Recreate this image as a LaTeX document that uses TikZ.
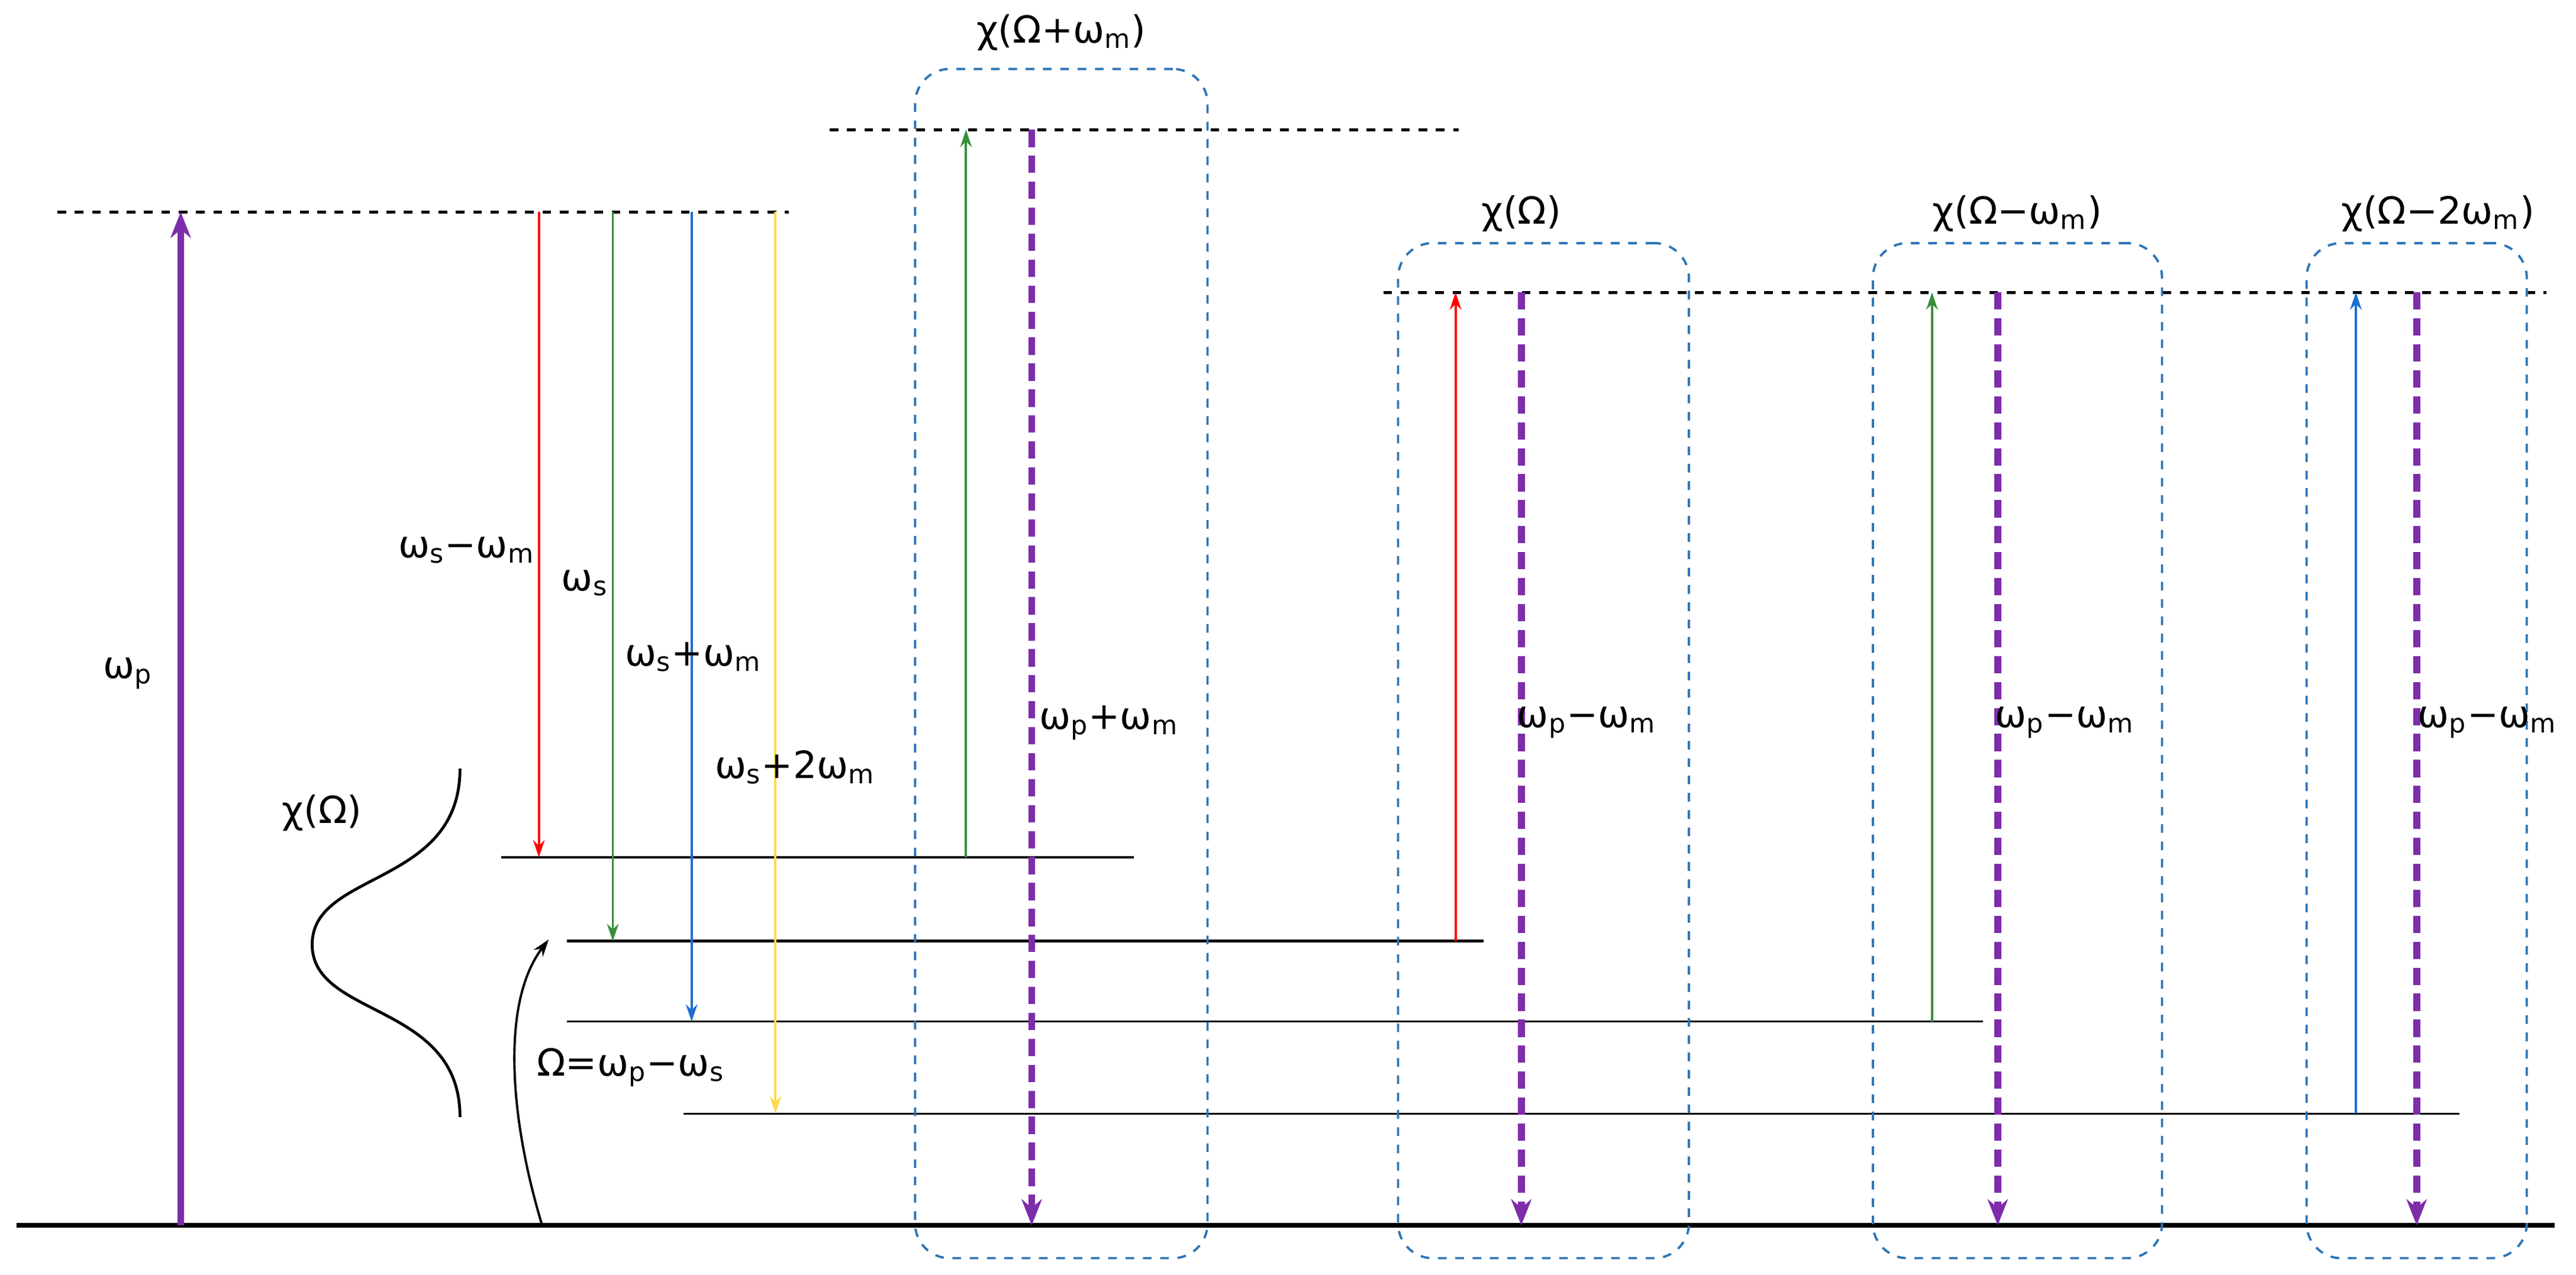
\documentclass[tikz,border=0pt]{standalone}
\usepackage{fontspec}
\setmainfont{DejaVu Sans}
\usetikzlibrary{arrows.meta}
\definecolor{pur}{RGB}{125,45,170}
\definecolor{bx}{RGB}{46,117,182}
\definecolor{gr}{RGB}{56,142,60}
\definecolor{bl}{RGB}{30,110,210}
\definecolor{ye}{RGB}{255,217,80}
\newcommand{\ssb}[1]{\textsubscript{#1}}
\tikzset{
 lbl/.style={font=\fontsize{13}{15}\selectfont},
 thinar/.style={-{Stealth[length=6pt,width=4pt]},line width=0.8pt},
 purar/.style={pur,line width=2.4pt,-{Stealth[length=9pt,width=7pt]}},
 purd/.style={purar,dash pattern=on 6pt off 3pt},
 box/.style={draw=bx,dashed,rounded corners=12pt,line width=0.8pt},
 lev/.style={line width=0.7pt},
 dl/.style={dashed,line width=1pt}
}
\begin{document}
\begin{tikzpicture}[x=0.02cm,y=-0.02cm]
\useasboundingbox (0,0) rectangle (1568,776);
% levels
\draw[line width=1.5pt] (10,746) -- (1555,746);
\draw[dl] (35,129) -- (480,129);
\draw[dl] (505,79) -- (888,79);
\draw[dl] (842,178) -- (1550,178);
\draw[lev] (305,522) -- (690,522);
\draw[line width=1.1pt] (345,573) -- (903,573);
\draw[lev] (345,622) -- (1207,622);
\draw[lev] (416,678) -- (1497,678);
% coordinates
\coordinate (pb) at (110,746); \coordinate (pt) at (110,129);
\draw[purar] (pb) -- (pt);
\node[lbl] (lp) at (78,410) {ω\ssb{p}};
\coordinate (r0) at (328,129); \coordinate (r1) at (328,522);
\draw[thinar,red] (r0) -- (r1);
\node[lbl] (lr) at (284,335) {ω\ssb{s}−ω\ssb{m}};
\coordinate (g0) at (373,129); \coordinate (g1) at (373,573);
\draw[thinar,gr] (g0) -- (g1);
\node[lbl] (lg) at (356,355) {ω\ssb{s}};
\coordinate (b0) at (421,129); \coordinate (b1) at (421,622);
\draw[thinar,bl] (b0) -- (b1);
\node[lbl] (lb) at (422,400) {ω\ssb{s}+ω\ssb{m}};
\coordinate (y0) at (472,129); \coordinate (y1) at (472,678);
\draw[thinar,ye] (y0) -- (y1);
\node[lbl] (ly) at (484,467) {ω\ssb{s}+2ω\ssb{m}};
% chi curve
\draw[line width=1pt] (280,468) .. controls (280,540) and (190,530) .. (190,575) .. controls (190,620) and (280,610) .. (280,680);
\node[lbl] (lc) at (196,495) {χ(Ω)};
\coordinate (o0) at (330,746); \coordinate (o1) at (334,572);
\draw[thinar] (o0) .. controls (310,680) and (305,610) .. (o1);
\node[lbl] (lo) at (384,650) {Ω=ω\ssb{p}−ω\ssb{s}};
% box 1
\node[box,minimum width=178*0.02cm,minimum height=724*0.02cm] (B1) at (646,404) {};
\node[lbl] (t1) at (646,20) {χ(Ω+ω\ssb{m})};
\coordinate (a1) at (588,522); \coordinate (a2) at (588,79);
\draw[thinar,gr] (a1) -- (a2);
\coordinate (d1) at (628,79); \coordinate (d2) at (628,746);
\draw[purd] (d1) -- (d2);
\node[lbl] (l1) at (675,440) {ω\ssb{p}+ω\ssb{m}};
% box 2
\node[box,minimum width=177*0.02cm,minimum height=618*0.02cm] (B2) at (939.5,457) {};
\node[lbl] (t2) at (926,130) {χ(Ω)};
\coordinate (a3) at (886,573); \coordinate (a4) at (886,178);
\draw[thinar,red] (a3) -- (a4);
\coordinate (d3) at (926,178); \coordinate (d4) at (926,746);
\draw[purd] (d3) -- (d4);
\node[lbl] (l2) at (966,440) {ω\ssb{p}−ω\ssb{m}};
% box 3
\node[box,minimum width=176*0.02cm,minimum height=618*0.02cm] (B3) at (1228,457) {};
\node[lbl] (t3) at (1228,130) {χ(Ω−ω\ssb{m})};
\coordinate (a5) at (1176,622); \coordinate (a6) at (1176,178);
\draw[thinar,gr] (a5) -- (a6);
\coordinate (d5) at (1216,178); \coordinate (d6) at (1216,746);
\draw[purd] (d5) -- (d6);
\node[lbl] (l3) at (1257,440) {ω\ssb{p}−ω\ssb{m}};
% box 4
\node[box,minimum width=134*0.02cm,minimum height=618*0.02cm] (B4) at (1471,457) {};
\node[lbl] (t4) at (1484,130) {χ(Ω−2ω\ssb{m})};
\coordinate (a7) at (1434,678); \coordinate (a8) at (1434,178);
\draw[thinar,bl] (a7) -- (a8);
\coordinate (d7) at (1471,178); \coordinate (d8) at (1471,746);
\draw[purd] (d7) -- (d8);
\node[lbl] (l4) at (1514,440) {ω\ssb{p}−ω\ssb{m}};
\end{tikzpicture}
\end{document}
